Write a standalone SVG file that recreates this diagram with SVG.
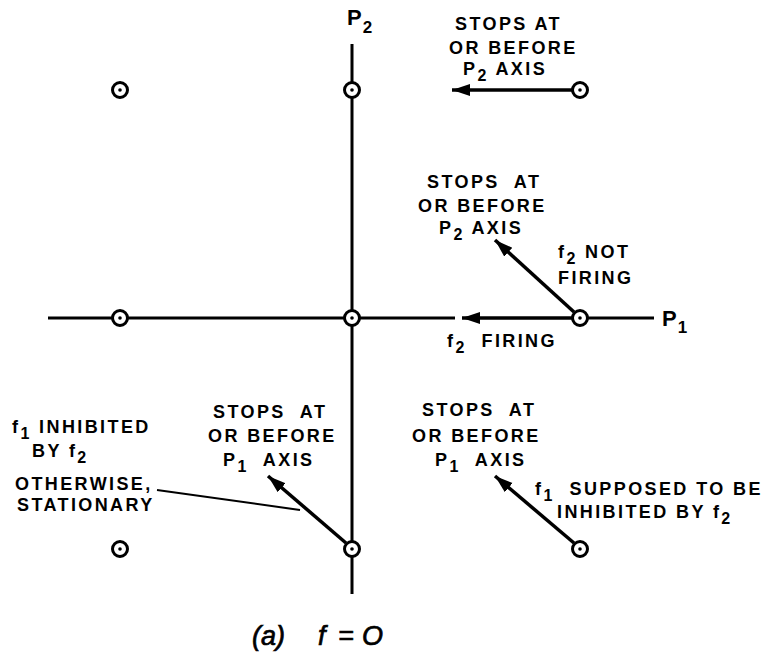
<svg xmlns="http://www.w3.org/2000/svg" width="768" height="653" viewBox="0 0 768 653" xml:space="preserve">
<style>
.t{font-family:"Liberation Sans",Arial,sans-serif;font-weight:bold;font-size:18px;letter-spacing:2.4px;fill:#000;white-space:pre}
.s{font-size:16px}
.ax{stroke:#000;stroke-width:3;fill:none}
.ar{stroke:#000;stroke-width:3.5;fill:none;marker-end:url(#ah)}
.ld{stroke:#000;stroke-width:2;fill:none}
.c{fill:#fff;stroke:#000;stroke-width:3}
.cap{font-family:"Liberation Sans",Arial,sans-serif;font-style:italic;font-size:27px;fill:#000;stroke:#000;stroke-width:0.7}
</style>
<defs>
<marker id="ah" markerUnits="userSpaceOnUse" markerWidth="20" markerHeight="14" refX="18" refY="6" orient="auto">
<path d="M0,0 L18,6 L0,12 z" fill="#000"/>
</marker>
<g id="pt"><circle class="c" r="7.5"/><circle r="1.8" fill="#000"/></g>
</defs>
<rect width="768" height="653" fill="#fff"/>
<g id="axes">
<line class="ax" x1="352" y1="44" x2="352" y2="594"/>
<line class="ax" x1="48" y1="318" x2="455" y2="318"/>
<line class="ax" x1="587" y1="318" x2="654" y2="318"/>
<text class="t" x="347" y="25" style="font-size:22px;letter-spacing:1px">P<tspan class="s" dy="8" style="font-size:17px">2</tspan></text>
<text class="t" x="662" y="326" style="font-size:22px;letter-spacing:1px">P<tspan class="s" dy="7" style="font-size:17px">1</tspan></text>
</g>
<g id="connectors">
<line class="ar" x1="572" y1="90" x2="452" y2="90"/>
<line class="ar" x1="572" y1="318" x2="462" y2="318"/>
<line class="ar" x1="574" y1="312" x2="495" y2="240"/>
<line class="ar" x1="346" y1="543" x2="268" y2="476"/>
<line class="ar" x1="574" y1="543" x2="495" y2="476"/>
<line class="ld" x1="157" y1="490" x2="300" y2="510"/>
</g>
<g id="points">
<use href="#pt" x="120" y="90"/>
<use href="#pt" x="352" y="90"/>
<use href="#pt" x="580" y="90"/>
<use href="#pt" x="120" y="318"/>
<use href="#pt" x="352" y="318"/>
<use href="#pt" x="580" y="318"/>
<use href="#pt" x="120" y="549"/>
<use href="#pt" x="352" y="549"/>
<use href="#pt" x="580" y="549"/>
</g>
<g id="label-top">
<text class="t" x="455" y="30">STOPS AT</text>
<text class="t" x="449" y="54">OR BEFORE</text>
<text class="t" x="463" y="75">P<tspan class="s" dy="6">2</tspan><tspan dy="-6"> AXIS</tspan></text>
</g>
<g id="label-mid">
<text class="t" x="427" y="188">STOPS  AT</text>
<text class="t" x="418" y="212">OR BEFORE</text>
<text class="t" x="439" y="234">P<tspan class="s" dy="6">2</tspan><tspan dy="-6"> AXIS</tspan></text>
<text class="t" x="558" y="258">f<tspan class="s" dy="6">2</tspan><tspan dy="-6"> NOT</tspan></text>
<text class="t" x="558" y="284">FIRING</text>
<text class="t" x="447" y="347">f<tspan class="s" dy="6">2</tspan><tspan dy="-6">  FIRING</tspan></text>
</g>
<g id="label-bl">
<text class="t" x="213" y="418">STOPS  AT</text>
<text class="t" x="208" y="442">OR BEFORE</text>
<text class="t" x="223" y="466">P<tspan class="s" dy="6">1</tspan><tspan dy="-6">  AXIS</tspan></text>
<text class="t" x="12" y="433">f<tspan class="s" dy="6">1</tspan><tspan dy="-6"> INHIBITED</tspan></text>
<text class="t" x="32" y="457">BY f<tspan class="s" dy="6">2</tspan></text>
<text class="t" x="15" y="490">OTHERWISE,</text>
<text class="t" x="17" y="511">STATIONARY</text>
</g>
<g id="label-br">
<text class="t" x="422" y="416">STOPS  AT</text>
<text class="t" x="412" y="442">OR BEFORE</text>
<text class="t" x="435" y="466">P<tspan class="s" dy="6">1</tspan><tspan dy="-6">  AXIS</tspan></text>
<text class="t" x="535" y="495">f<tspan class="s" dy="6">1</tspan><tspan dy="-6">  SUPPOSED TO BE</tspan></text>
<text class="t" x="557" y="518">INHIBITED BY f<tspan class="s" dy="6">2</tspan></text>
</g>
<text class="cap" y="645"><tspan x="252">(a)</tspan><tspan x="318">f</tspan><tspan x="338">=</tspan><tspan x="362">O</tspan></text>
</svg>
